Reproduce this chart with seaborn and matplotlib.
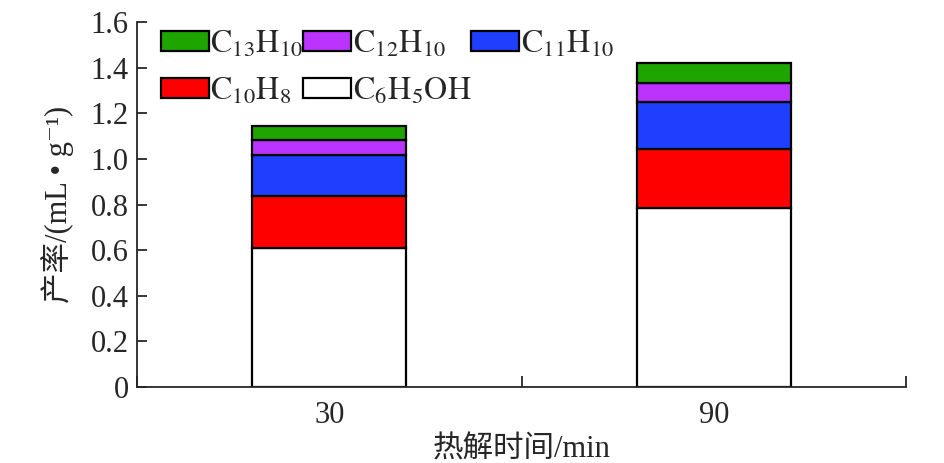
import matplotlib
matplotlib.use("Agg")
import matplotlib.pyplot as plt
import seaborn as sns
import numpy as np
import pandas as pd
from matplotlib.patches import Patch

times = ["30", "90"]
series_names = [r"$\mathrm{C_{6}H_{5}OH}$", r"$\mathrm{C_{10}H_{8}}$", r"$\mathrm{C_{11}H_{10}}$",
                r"$\mathrm{C_{12}H_{10}}$", r"$\mathrm{C_{13}H_{10}}$"]
c6h5oh = [0.61, 0.786]
c10h8 = [0.228, 0.258]
c11h10 = [0.181, 0.207]
c12h10 = [0.064, 0.082]
c13h10 = [0.063, 0.087]
colors = ["#ffffff", "#ff0000", "#1f3fff", "#bb33ff", "#1ea500"]

sns.set_style("ticks")
plt.rcParams['font.family'] = ['Liberation Serif', 'Noto Sans CJK SC', 'DejaVu Serif']
plt.rcParams['mathtext.fontset'] = 'stix'

fig = plt.figure(figsize=(9.45, 4.63), dpi=100)
ax = fig.add_axes([0.145, 0.164, 0.814, 0.788])

values = [c6h5oh, c10h8, c11h10, c12h10, c13h10]
bottom = np.zeros(len(times))
for name, vals, col in zip(series_names, values, colors):
    df = pd.DataFrame({"time": times, "val": vals})
    sns.barplot(data=df, x="time", y="val", order=times, color=col, saturation=1,
                edgecolor="black", linewidth=1.6, width=0.4, bottom=bottom, ax=ax)
    bottom = bottom + np.array(vals)

ax.set_xlim(-0.5, 1.5)
ax.set_ylim(0, 1.6)
ax.set_yticks(np.arange(0, 1.61, 0.2))
ax.set_yticklabels(["0"] + [f"{v:.1f}" for v in np.arange(0.2, 1.61, 0.2)])
ax.set_xticks([0, 1])
ax.set_xticklabels(times)
ax.set_xticks([-0.5, 0.5, 1.5], minor=True)
ax.tick_params(axis="x", which="major", length=0, labelsize=22, pad=10)
ax.tick_params(axis="x", which="minor", direction="in", length=8, width=1.3)
ax.tick_params(axis="y", direction="in", length=7, width=1.3, labelsize=22, pad=6)
for s in ["top", "right"]:
    ax.spines[s].set_visible(False)
for s in ["left", "bottom"]:
    ax.spines[s].set_linewidth(1.3)

ax.set_xlabel("热解时间/min", fontsize=22, labelpad=4)
ax.set_ylabel("产率/(mL • g⁻¹)", fontsize=22, labelpad=12)

handles = [Patch(facecolor=c, edgecolor="black", linewidth=1.6) for c in colors]
# row-major order: C13H10, C12H10, C11H10 / C10H8, C6H5OH
order = [4, 1, 3, 0, 2]
leg = ax.legend([handles[i] for i in order], [series_names[i] for i in order], ncol=3,
                loc="upper left", bbox_to_anchor=(0.01, 1.025), frameon=False, fontsize=23,
                handlelength=1.5, handleheight=0.6, handletextpad=0.05, columnspacing=0.0,
                labelspacing=0.5, borderaxespad=0.1)

fig.savefig("out.png", dpi=100)
